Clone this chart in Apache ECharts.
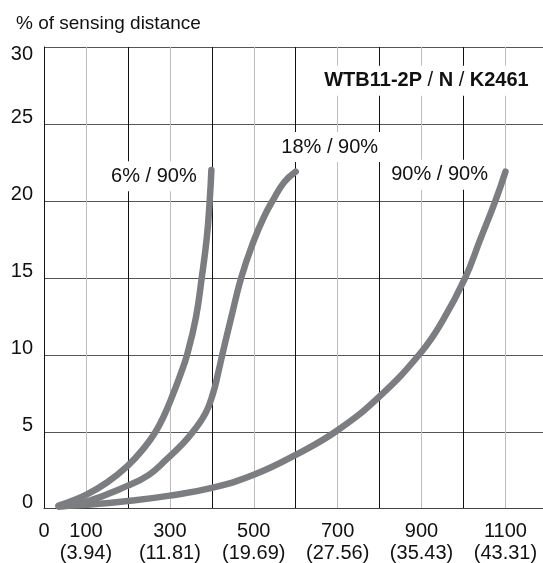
<!DOCTYPE html>
<html><head><meta charset="utf-8">
<script src="https://cdn.jsdelivr.net/npm/echarts/dist/echarts.min.js"></script>
<style>html,body{margin:0;padding:0;background:#fff}#c{width:543px;height:563px}</style>
</head><body><div id="c"></div>
<script>
const FONT = '"Liberation Sans", Arial, sans-serif';

// curves: [distance mm, % of sensing distance]
const curve6 = [[35,0.2],[100,0.9],[150,1.7],[200,2.8],[240,4.0],[266,5],[287,6.1],[307,7.4],[325,8.7],[341,10],[362,12.4],[376,15],[388,17.6],[395,20],[399,22]];
const curve18 = [[35,0.15],[100,0.45],[200,1.5],[250,2.2],[292,3.2],[330,4.2],[355,5],[385,6.2],[403,7.5],[415,8.8],[425,10],[447,12.5],[470,15],[500,17.4],[525,19],[547,20.1],[572,21.2],[600,21.9]];
const curve90 = [[35,0.15],[100,0.25],[200,0.5],[300,0.85],[400,1.35],[500,2.2],[600,3.5],[700,5.1],[800,7.3],[900,10.2],[950,12.2],[1004,15],[1040,17.5],[1076,20],[1100,21.9]];

const seriesNames = ['6% / 90%', '18% / 90%', '90% / 90%'];
const modelName = ['WTB11-2P', 'N', 'K2461'];
const titleText = '% of sensing distance';

const xTickValues = [0, 100, 300, 500, 700, 900, 1100];
const xTickInches = ['', '(3.94)', '(11.81)', '(19.69)', '(27.56)', '(35.43)', '(43.31)'];
const yTopLabel = 30;

// label anchors in data coordinates
const seriesLabelAnchors = [[262, 21.6], [681, 23.5], [943, 21.7]];
const modelLabelAnchor = [1165, 27.8];

const LINE_COLOR = '#7c7d81';

const chart = echarts.init(document.getElementById('c'), null, {renderer: 'canvas'});

function lineSeries(name, data) {
  return {
    name: name, type: 'line', data: data, showSymbol: false, symbol: 'none',
    smooth: 0.45, z: 3,
    lineStyle: {color: LINE_COLOR, width: 6.5, cap: 'round', join: 'round'},
    emphasis: {disabled: true}
  };
}

chart.setOption({
  animation: false,
  backgroundColor: '#fff',
  textStyle: {fontFamily: FONT},
  title: {text: titleText, left: 11, top: 9,
    textStyle: {fontSize: 19, fontWeight: 'normal', color: '#111', fontFamily: FONT}},
  grid: {left: 44, top: 47, width: 503.4, height: 461.7, containLabel: false, outerBoundsMode: 'none'},
  xAxis: {
    type: 'value', min: 0, max: 1200, interval: 100,
    axisLine: {show: true, onZero: false, lineStyle: {color: '#444', width: 1}},
    axisTick: {show: false},
    splitLine: {show: true, showMinLine: true, showMaxLine: true, lineStyle: {color: ['#111', '#bdbdbd'], width: 1}},
    axisLabel: {
      margin: 12, fontSize: 20, color: '#111', lineHeight: 22, fontFamily: FONT,
      formatter: function (v) {
        const i = xTickValues.indexOf(v);
        if (i < 0) return '';
        return xTickInches[i] ? v + '\n' + xTickInches[i] : String(v);
      }
    }
  },
  yAxis: {
    type: 'value', min: 0, max: 30, interval: 5,
    axisLine: {show: true, onZero: false, lineStyle: {color: '#111', width: 1}},
    axisTick: {show: false},
    splitLine: {show: true, showMinLine: true, showMaxLine: true, lineStyle: {color: '#555', width: 1}},
    axisLabel: {
      margin: 11, fontSize: 20, color: '#111', fontFamily: FONT,
      verticalAlign: 'bottom', lineHeight: 12,
      formatter: function (v) { return v === yTopLabel ? '' : String(v); }
    }
  },
  series: [
    lineSeries(seriesNames[0], curve6),
    lineSeries(seriesNames[1], curve18),
    lineSeries(seriesNames[2], curve90)
  ]
});

const graphics = [];
seriesNames.forEach(function (n, i) {
  const p = chart.convertToPixel({gridIndex: 0}, seriesLabelAnchors[i]);
  graphics.push({
    type: 'text', x: p[0], y: p[1], z: 1,
    style: {text: n, align: 'center', verticalAlign: 'middle', fill: '#111',
      fontSize: 20, fontFamily: FONT, backgroundColor: '#fff', padding: [5, 4]}
  });
});
const mp = chart.convertToPixel({gridIndex: 0}, modelLabelAnchor);
graphics.push({
  type: 'text', x: mp[0], y: mp[1], z: 1,
  style: {
    text: '{b|' + modelName[0] + '}{n| / }{b|' + modelName[1] + '}{n| / }{b|' + modelName[2] + '}',
    align: 'right', verticalAlign: 'middle', backgroundColor: '#fff', padding: [5, 4],
    rich: {
      b: {fontSize: 20, fontWeight: 'bold', fontFamily: FONT, fill: '#111'},
      n: {fontSize: 20, fontWeight: 'normal', fontFamily: FONT, fill: '#111'}
    }
  }
});
const y30 = chart.convertToPixel({yAxisIndex: 0}, yTopLabel);
graphics.push({
  type: 'text', x: 33, y: y30 + 7.5, z: 5,
  style: {text: String(yTopLabel), align: 'right', verticalAlign: 'middle', fill: '#111', fontSize: 20, fontFamily: FONT}
});
chart.setOption({graphic: graphics});
</script>
</body></html>
